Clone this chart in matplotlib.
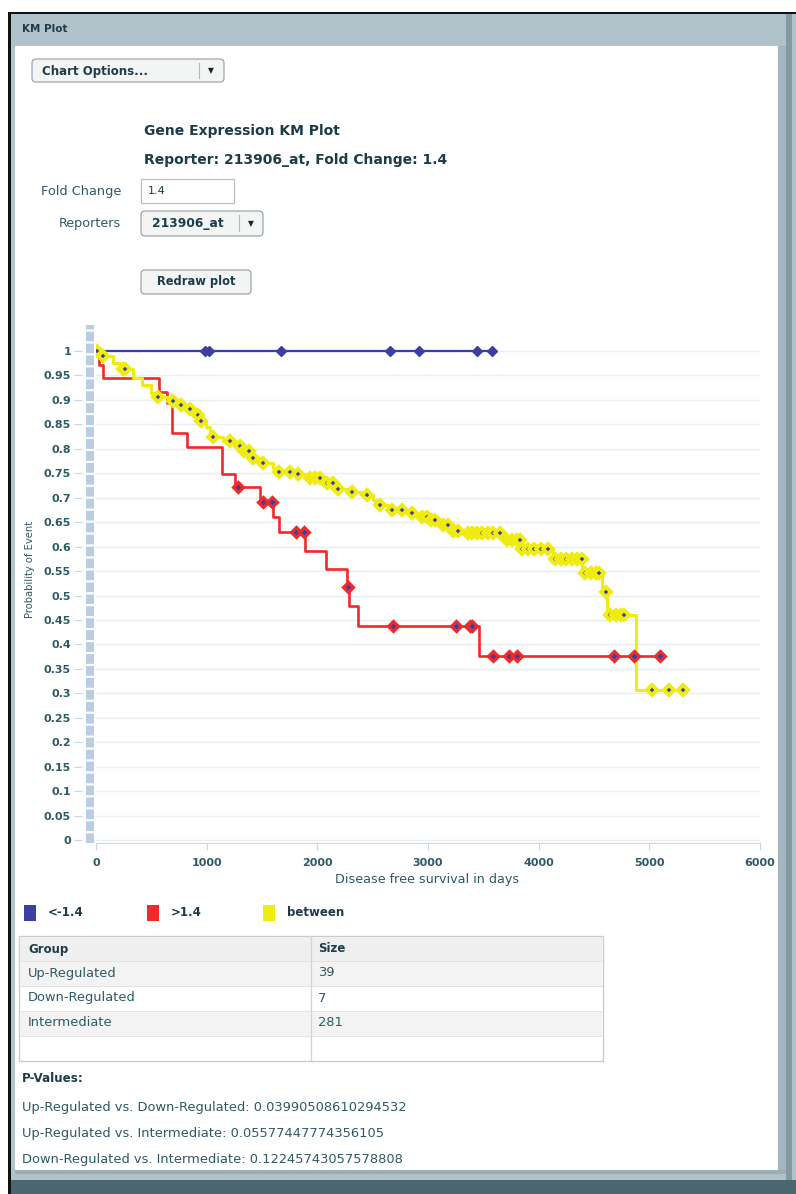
import numpy as np
import matplotlib
matplotlib.use('Agg')
import matplotlib.pyplot as plt
from matplotlib.patches import Rectangle, FancyBboxPatch

# ---- survival data ----
blue_times = [0, 3577]
blue_surv = [1.0, 1.0]
blue_censor = [985, 1021, 1671, 2656, 2918, 3442, 3577]

red_times = [0, 30, 60, 572, 644, 684, 819, 1135, 1256, 1482, 1602, 1656,
             1890, 2075, 2265, 2290, 2370, 3460, 5099]
red_surv = [1.0, 0.972, 0.945, 0.917, 0.893, 0.832, 0.804, 0.748, 0.722, 0.692,
            0.661, 0.629, 0.592, 0.555, 0.518, 0.479, 0.438, 0.376, 0.376]
red_censor = [1286, 1512, 1587, 1807, 1882, 2273, 2680, 3252, 3379, 3394,
              3590, 3734, 3806, 4680, 4864, 5099]

yellow_times = [0, 30, 150, 220, 330, 420, 500, 560, 650, 740, 820, 900, 940,
                990, 1030, 1150, 1250, 1330, 1400, 1480, 1600, 1640, 1800, 1900,
                2050, 2150, 2280, 2400, 2500, 2560, 2640, 2800, 2900, 3000, 3100,
                3230, 3330, 3680, 3840, 4130, 4390, 4570, 4615, 4880, 5307]
yellow_surv = [1.0, 0.99, 0.975, 0.963, 0.945, 0.93, 0.915, 0.905, 0.898, 0.889,
               0.881, 0.869, 0.857, 0.845, 0.824, 0.815, 0.806, 0.795, 0.781, 0.770,
               0.760, 0.753, 0.748, 0.740, 0.730, 0.718, 0.712, 0.705, 0.695, 0.685,
               0.675, 0.668, 0.661, 0.655, 0.644, 0.632, 0.627, 0.613, 0.595, 0.574,
               0.547, 0.508, 0.460, 0.307, 0.307]
yellow_censor = [5, 60, 240, 260, 560, 700, 765, 850, 918, 945, 1060, 1211, 1300,
                 1340, 1380, 1420, 1512, 1656, 1753, 1828, 1935, 1980, 2024, 2084,
                 2140, 2189, 2310, 2446, 2566, 2672, 2762, 2852, 2943, 2990, 3030,
                 3063, 3136, 3180, 3230, 3271, 3360, 3400, 3440, 3490, 3540, 3590,
                 3650, 3711, 3760, 3800, 3831, 3846, 3900, 3960, 4020, 4087, 4147,
                 4200, 4250, 4300, 4350, 4388, 4420, 4470, 4520, 4548, 4605, 4645,
                 4700, 4740, 4771, 5027, 5175, 5307]

groups = ['Up-Regulated', 'Down-Regulated', 'Intermediate']
sizes = ['39', '7', '281']
pvalues = [('Up-Regulated vs. Down-Regulated', '0.03990508610294532'),
           ('Up-Regulated vs. Intermediate', '0.05577447774356105'),
           ('Down-Regulated vs. Intermediate', '0.12245743057578808')]
legend_labels = ['<-1.4', '>1.4', 'between']

BLUE = '#3b3fa0'
RED = '#ee2a2a'
YELLOW = '#f0ec10'
DARK = '#1c3c48'
TEAL = '#2e5a66'

W, H = 796, 1194
fig = plt.figure(figsize=(W / 100, H / 100), dpi=100)

# background drawn in pixel coordinates
bg = fig.add_axes([0, 0, 1, 1], zorder=0)
bg.set_xlim(0, W)
bg.set_ylim(H, 0)
bg.axis('off')


def box(x0, y0, x1, y1, fc, ec='none', lw=0, z=1):
    bg.add_patch(Rectangle((x0, y0), x1 - x0, y1 - y0, fc=fc, ec=ec, lw=lw, zorder=z))


def rbox(x0, y0, x1, y1, fc='#f3f5f5', ec='#9ca6aa', z=3):
    bg.add_patch(FancyBboxPatch((x0, y0), x1 - x0, y1 - y0,
                                boxstyle='round,pad=0,rounding_size=4',
                                fc=fc, ec=ec, lw=0.9, zorder=z))


def txt(x, y, s, size=9.3, color=TEAL, weight='normal', ha='left', **kw):
    bg.text(x, y, s, fontsize=size, color=color, fontweight=weight,
            ha=ha, va='center', zorder=5, **kw)


# frame
box(8, 12, W, H, '#111111')
box(11, 14, W, 1180, '#b1c3ca')
box(11, 1180, W, H, '#4b6571')
box(15, 46, 778, 1170, 'white')
box(778, 46, 790, 1172, '#a3b6be')
box(786, 14, 792, 1180, '#8399a3')
box(15, 1170, 786, 1174, '#9aaeb6')

txt(22, 29, 'KM Plot', size=7.5, color=DARK, weight='bold')

# chart options dropdown
rbox(32, 59, 224, 82)
txt(42, 71, 'Chart Options...', size=8.5, color=DARK, weight='bold')
bg.plot([199, 199], [63, 78], color='#b0b8bb', lw=0.8, zorder=4)
txt(211, 71, '\u25bc', size=5.5, color='#222222', ha='center')

# titles
txt(144, 131, 'Gene Expression KM Plot', size=10, color=DARK, weight='bold')
txt(144, 160, 'Reporter: 213906_at, Fold Change: 1.4', size=10, color=DARK, weight='bold')

# form controls
txt(121, 191, 'Fold Change', size=9.3, ha='right')
box(141, 179, 234, 203, 'white', ec='#b8bec0', lw=0.9, z=3)
txt(148, 191, '1.4', size=8, color=DARK)
txt(121, 223, 'Reporters', size=9.2, ha='right')
rbox(141, 211, 263, 236)
txt(152, 223, '213906_at', size=8.8, color=DARK, weight='bold')
bg.plot([239, 239], [215, 231], color='#b0b8bb', lw=0.8, zorder=4)
txt(251, 224, '\u25bc', size=5.5, color='#222222', ha='center')
rbox(141, 270, 251, 294)
txt(196, 282, 'Redraw plot', size=8.3, color=DARK, weight='bold', ha='center')

# ---- KM plot ----
ax_l, ax_r, ax_t, ax_b = 96, 760, 325, 843
ax = fig.add_axes([ax_l / W, 1 - ax_b / H, (ax_r - ax_l) / W, (ax_b - ax_t) / H], zorder=2)
ax.patch.set_alpha(0)
ax.set_xlim(0, 6000)
ax.set_ylim(-3 / 489, 515 / 489)

yt = np.round(np.arange(0, 1.0001, 0.05), 2)
ax.set_yticks(yt)
ax.set_yticklabels([f'{v:g}' for v in yt])
ax.set_xticks(range(0, 6001, 1000))
for y in yt:
    ax.axhline(y, color='#e7eef4', lw=1, zorder=0)

for s in ['top', 'right']:
    ax.spines[s].set_visible(False)
ax.spines['left'].set_position(('outward', 10))
ax.spines['left'].set_visible(False)
ax.spines['bottom'].set_color('#c6d8e7')
ax.tick_params(axis='y', length=6, color='#c6d8e7', pad=2, labelsize=8,
               labelcolor=TEAL)
ax.tick_params(axis='x', length=5, color='#c6d8e7', pad=6, labelsize=8,
               labelcolor=TEAL)
for lab in ax.get_xticklabels() + ax.get_yticklabels():
    lab.set_fontweight('bold')

# dashed stripe along the value axis
plt.rcParams['lines.scale_dashes'] = False
ax.plot([-0.0095, -0.0095], [0, 1], transform=ax.transAxes, clip_on=False,
        color='#b9cee0', lw=5.8, solid_capstyle='butt',
        dashes=(7.0, 1.6), zorder=1)


def surv_at(times, surv, t):
    idx = np.searchsorted(times, t, side='right') - 1
    return np.asarray(surv)[idx]


ax.plot(blue_times, blue_surv, color=BLUE, lw=1.6, drawstyle='steps-post', zorder=3)
ax.plot(red_times, red_surv, color=RED, lw=1.9, drawstyle='steps-post', zorder=3)
ax.plot(yellow_times, yellow_surv, color=YELLOW, lw=2.2, drawstyle='steps-post', zorder=4)

ax.plot(yellow_censor, surv_at(yellow_times, yellow_surv, yellow_censor), ls='none',
        marker='D', ms=5.0, mfc=BLUE, mec=YELLOW, mew=2.8, zorder=5)
ax.plot(red_censor, surv_at(red_times, red_surv, red_censor), ls='none',
        marker='D', ms=5.2, mfc=BLUE, mec=RED, mew=2.3, zorder=6)
ax.plot(blue_censor, surv_at(blue_times, blue_surv, blue_censor), ls='none',
        marker='D', ms=5.2, mfc=BLUE, mec=BLUE, zorder=6)

txt(427, 880, 'Disease free survival in days', size=9.2, ha='center')
txt(30, 569, 'Probability of Event', size=7.2, ha='center', rotation=90)

# legend
leg_x = [24, 147, 263]
leg_cols = [BLUE, RED, YELLOW]
for x, c, lab in zip(leg_x, leg_cols, legend_labels):
    box(x, 905, x + 12, 921, c, z=3)
    txt(x + 24, 913, lab, size=8.5, color=DARK, weight='bold')

# group size table
box(19, 936, 603, 1061, 'white', ec='#c8cccd', lw=1, z=2)
box(20, 937, 602, 961, '#efefef', z=2)
for i in range(4):
    y0 = 961 + 25 * i
    if i % 2 == 0:
        box(20, y0, 602, y0 + 25, '#f3f3f3', z=2)
    bg.plot([20, 602], [y0, y0], color='#e0e3e4', lw=0.7, zorder=3)
bg.plot([311, 311], [937, 1060], color='#d0d4d5', lw=0.9, zorder=3)
txt(28, 949, 'Group', size=8.5, color=DARK, weight='bold')
txt(318, 949, 'Size', size=8.5, color=DARK, weight='bold')
for i, (g, n) in enumerate(zip(groups, sizes)):
    txt(28, 973 + 25 * i, g, size=9.4)
    txt(318, 973 + 25 * i, n, size=9.4)

# p-values
txt(22, 1079, 'P-Values:', size=8.6, color=DARK, weight='bold')
for i, (a, p) in enumerate(pvalues):
    txt(22, 1107 + 26 * i, f'{a}: {p}', size=9.4)

fig.savefig('out.png', dpi=100)
